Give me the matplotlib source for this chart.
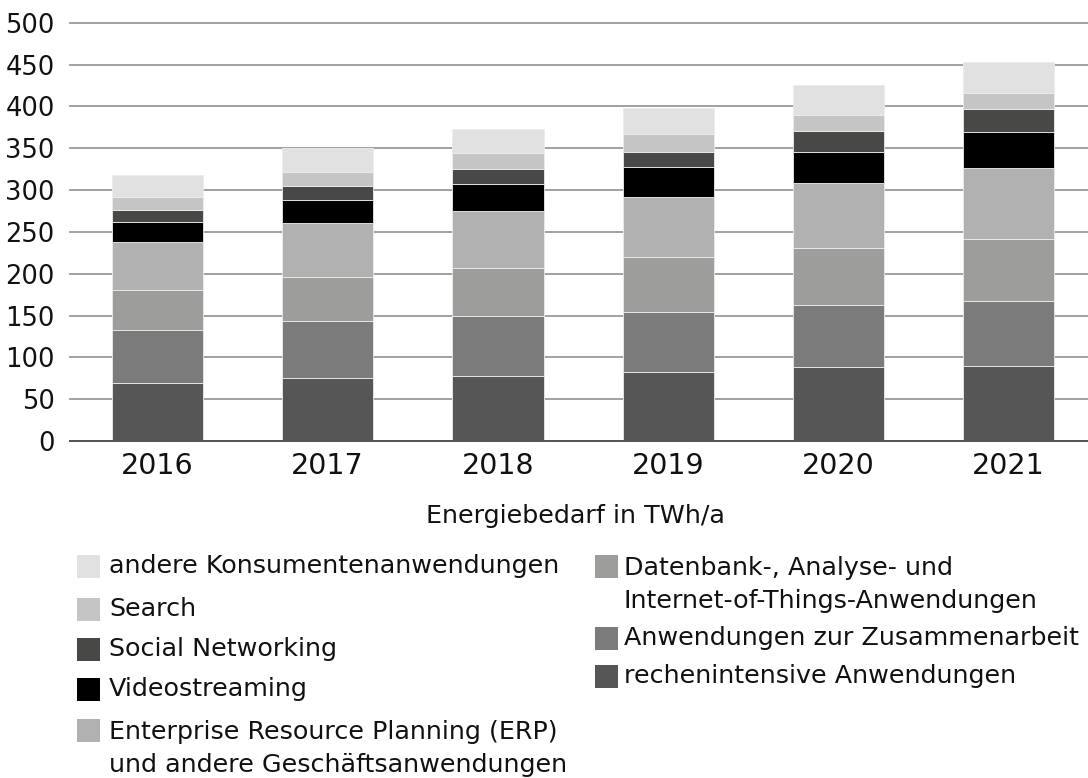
import matplotlib
matplotlib.use("Agg")
import matplotlib.pyplot as plt
from matplotlib.patches import Rectangle
import numpy as np

plt.rcParams['font.family'] = ['DejaVu Sans']

years = ["2016", "2017", "2018", "2019", "2020", "2021"]

# series, bottom to top
rechenintensiv = [69, 75, 78, 83, 88, 90]
zusammenarbeit = [64, 68, 71, 71, 75, 77]
datenbank_iot = [48, 53, 58, 66, 68, 75]
erp = [57, 64, 68, 72, 77, 84]
videostreaming = [24, 28, 32, 35, 38, 43]
social_networking = [14, 17, 18, 19, 24, 28]
search = [16, 16, 19, 21, 20, 19]
andere_konsumenten = [26, 29, 29, 31, 35, 37]

labels = {
    "rechen": "rechenintensive Anwendungen",
    "zus": "Anwendungen zur Zusammenarbeit",
    "db": "Datenbank-, Analyse- und\nInternet-of-Things-Anwendungen",
    "erp": "Enterprise Resource Planning (ERP)\nund andere Geschäftsanwendungen",
    "video": "Videostreaming",
    "social": "Social Networking",
    "search": "Search",
    "andere": "andere Konsumentenanwendungen",
}
xlabel = "Energiebedarf in TWh/a"
yticks = [0, 50, 100, 150, 200, 250, 300, 350, 400, 450, 500]

series = [
    ("rechen", rechenintensiv, "#565656"),
    ("zus", zusammenarbeit, "#7b7b7b"),
    ("db", datenbank_iot, "#9d9d9c"),
    ("erp", erp, "#b1b1b1"),
    ("video", videostreaming, "#000000"),
    ("social", social_networking, "#484846"),
    ("search", search, "#c5c5c5"),
    ("andere", andere_konsumenten, "#e1e1e1"),
]

W, H = 1088, 778
fig = plt.figure(figsize=(W / 100, H / 100), dpi=100)
ax = fig.add_axes([70 / W, 1 - 441 / H, 1 - 70 / W, (441 - 22.7) / H])

x = np.arange(len(years))
bottom = np.zeros(len(years))
colors = {}
for key, vals, col in series:
    vals = np.array(vals, dtype=float)
    ax.bar(x, vals, width=0.536, bottom=bottom, color=col,
           edgecolor="#ececec", linewidth=0.6, zorder=3)
    bottom += vals
    colors[key] = col

ax.set_xlim(-0.513, 5.466)
ax.set_ylim(0, 500)
ax.set_yticks(yticks)
ax.set_yticklabels([str(v) for v in yticks], fontsize=18.5, color="#111111")
ax.set_xticks(x)
ax.set_xticklabels(years, fontsize=20.5, color="#111111")
ax.tick_params(axis="both", length=0)
ax.tick_params(axis="y", pad=11)
ax.tick_params(axis="x", pad=8)
ax.yaxis.grid(True, color="#9a9a9a", linewidth=1.3, zorder=0)
ax.set_axisbelow(True)
for gl in ax.get_ygridlines():
    gl.set_clip_on(False)
for s in ["left", "right", "top"]:
    ax.spines[s].set_visible(False)
ax.spines["bottom"].set_color("#555555")
ax.spines["bottom"].set_linewidth(1.4)
ax.spines["bottom"].set_zorder(4)

fig.text(575 / W, 1 - 516 / H, xlabel, fontsize=18.3, ha="center", va="center",
         color="#111111")

# legend (manual layout)
def entry(key, px, py_center, tx, nlines=1):
    r = Rectangle((px / W, 1 - (py_center + 11.5) / H), 23 / W, 23 / H,
                  transform=fig.transFigure, facecolor=colors[key],
                  edgecolor="none")
    fig.patches.append(r)
    if nlines == 1:
        fig.text(tx / W, 1 - py_center / H, labels[key], fontsize=18.3,
                 ha="left", va="center", color="#111111")
    else:
        fig.text(tx / W, 1 - (py_center + 18.5) / H, labels[key], fontsize=18.3,
                 ha="left", va="center", color="#111111", linespacing=1.5)

entry("andere", 77, 566, 109)
entry("search", 77, 609, 109)
entry("social", 77, 649, 109)
entry("video", 77, 689, 109)
entry("erp", 77, 730, 109, nlines=2)
entry("db", 595, 566, 624, nlines=2)
entry("zus", 595, 638.5, 624)
entry("rechen", 595, 676, 624)

fig.savefig("out.png", dpi=100)
